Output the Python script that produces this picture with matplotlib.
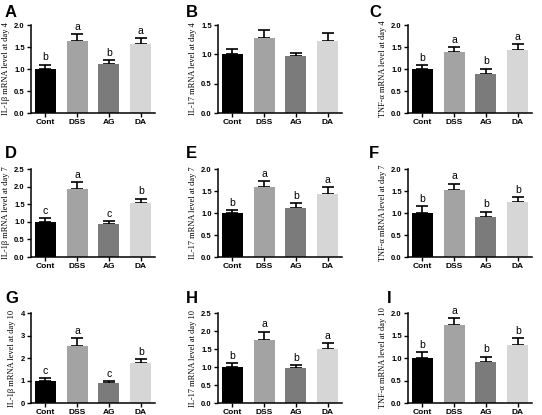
import matplotlib
matplotlib.use("Agg")
import matplotlib.pyplot as plt

groups = ["Cont", "DSS", "AG", "DA"]
bar_colors = ["#000000", "#a3a3a3", "#7b7b7b", "#d6d6d6"]

panels = ["A", "B", "C", "D", "E", "F", "G", "H", "I"]
ylabels = [
    "IL-1\u03b2 mRNA level at day 4", "IL-17 mRNA level at day 4", "TNF-\u03b1 mRNA level at day 4",
    "IL-1\u03b2 mRNA level at day 7", "IL-17 mRNA level at day 7", "TNF-\u03b1 mRNA level at day 7",
    "IL-1\u03b2 mRNA level at day 10", "IL-17 mRNA level at day 10", "TNF-\u03b1 mRNA level at day 10",
]

# means per panel (Cont, DSS, AG, DA)
means_A = [1.00, 1.63, 1.12, 1.56]
means_B = [1.00, 1.27, 0.97, 1.23]
means_C = [1.00, 1.39, 0.89, 1.43]
means_D = [1.00, 1.93, 0.93, 1.54]
means_E = [1.00, 1.58, 1.11, 1.44]
means_F = [1.00, 1.52, 0.91, 1.24]
means_G = [1.00, 2.52, 0.90, 1.76]
means_H = [1.00, 1.75, 0.97, 1.50]
means_I = [1.00, 1.73, 0.92, 1.30]

# upper error bars
err_A = [0.10, 0.17, 0.08, 0.15]
err_B = [0.09, 0.14, 0.06, 0.13]
err_C = [0.08, 0.10, 0.12, 0.13]
err_D = [0.10, 0.19, 0.08, 0.12]
err_E = [0.07, 0.15, 0.12, 0.15]
err_F = [0.15, 0.15, 0.12, 0.13]
err_G = [0.10, 0.35, 0.08, 0.20]
err_H = [0.10, 0.23, 0.08, 0.17]
err_I = [0.13, 0.15, 0.11, 0.14]

# significance letters
sig_A = ["b", "a", "b", "a"]
sig_B = ["", "", "", ""]
sig_C = ["b", "a", "b", "a"]
sig_D = ["c", "a", "c", "b"]
sig_E = ["b", "a", "b", "a"]
sig_F = ["b", "a", "b", "b"]
sig_G = ["c", "a", "c", "b"]
sig_H = ["b", "a", "b", "a"]
sig_I = ["b", "a", "b", "b"]

ymax = [2.0, 1.5, 2.0, 2.5, 2.0, 2.0, 4, 2.5, 2.0]
ystep = [0.5, 0.5, 0.5, 0.5, 0.5, 0.5, 1, 0.5, 0.5]

all_means = [means_A, means_B, means_C, means_D, means_E, means_F, means_G, means_H, means_I]
all_err = [err_A, err_B, err_C, err_D, err_E, err_F, err_G, err_H, err_I]
all_sig = [sig_A, sig_B, sig_C, sig_D, sig_E, sig_F, sig_G, sig_H, sig_I]

fig = plt.figure(figsize=(5.42, 4.15), dpi=100)

lefts = [31 / 542, 218 / 542, 408 / 542]
bottoms = [1 - 113 / 415, 1 - 257 / 415, 1 - 403 / 415]
heights = [88 / 415, 88 / 415, 90 / 415]
width = 124 / 542
# panel letter positions (pixels from top-left)
letter_x = [5, 186, 369]
letter_y = [5, 146, 291]

for k in range(9):
    r, c = divmod(k, 3)
    ax = fig.add_axes([lefts[c], bottoms[r], width, heights[r]])
    x = range(len(groups))
    ax.bar(x, all_means[k], width=0.66, color=bar_colors, zorder=2)
    ax.errorbar(x, all_means[k], yerr=[[0] * 4, all_err[k]], fmt="none",
                ecolor="black", elinewidth=1.2, capsize=4.5, capthick=1.2, zorder=1)
    for i in x:
        if all_sig[k][i]:
            ax.text(i, all_means[k][i] + all_err[k][i] + ymax[k] * 0.025, all_sig[k][i],
                    ha="center", va="bottom", fontsize=7.5, family="Liberation Sans")
    ax.set_xlim(-0.45, 3.45)
    ax.set_ylim(0, ymax[k])
    n = int(round(ymax[k] / ystep[k]))
    ticks = [i * ystep[k] for i in range(n + 1)]
    ax.set_yticks(ticks)
    if ystep[k] < 1:
        ax.set_yticklabels(["%.1f" % t for t in ticks])
    else:
        ax.set_yticklabels(["%d" % t for t in ticks])
    ax.set_xticks(list(x))
    ax.set_xticklabels(groups)
    for lab in ax.get_yticklabels():
        lab.set_fontfamily("Liberation Sans")
        lab.set_fontweight("bold")
        lab.set_fontsize(5.5)
    for lab in ax.get_xticklabels():
        lab.set_fontfamily("Liberation Sans")
        lab.set_fontweight("bold")
        lab.set_fontsize(6)
    ax.tick_params(axis="y", length=3, width=1, pad=1.5)
    ax.tick_params(axis="x", length=3, width=1, pad=1.5)
    ax.spines["top"].set_visible(False)
    ax.spines["right"].set_visible(False)
    ax.spines["left"].set_linewidth(1.1)
    ax.spines["bottom"].set_linewidth(1.1)
    ax.set_ylabel(ylabels[k], fontsize=6, family="Liberation Serif", labelpad=3)
    lx = letter_x[c] + (18 if k == 8 else 0)
    fig.text(lx / 542, 1 - letter_y[r] / 415, panels[k], fontsize=12,
             fontweight="bold", family="Liberation Sans", va="top", ha="left")

fig.savefig("out.png", dpi=100)
